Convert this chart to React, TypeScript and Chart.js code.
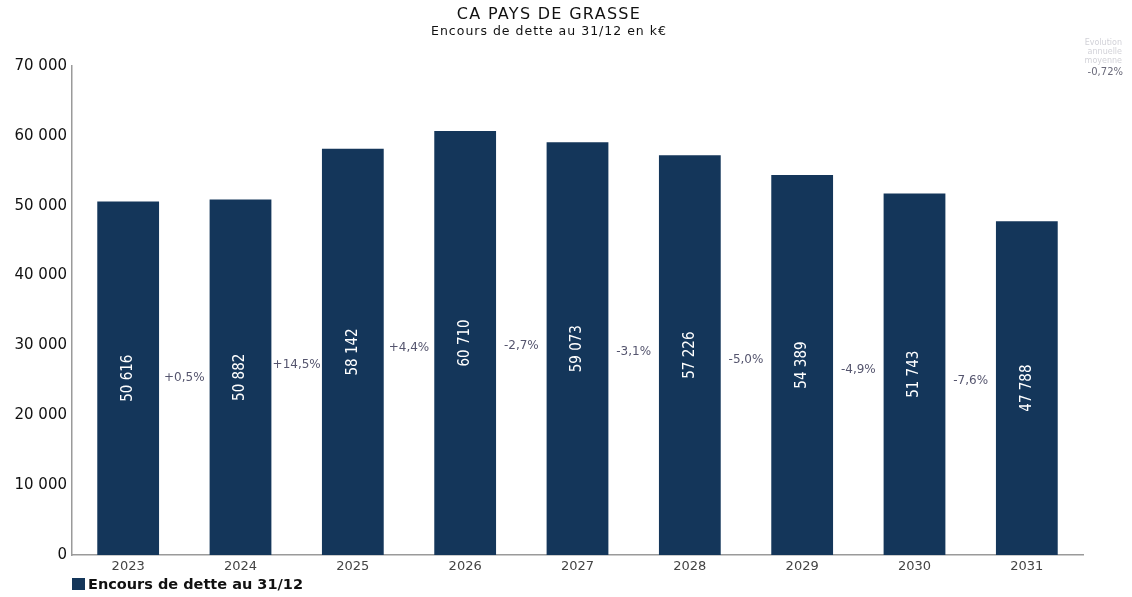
import React, { useEffect, useRef } from "react";
import { Chart, registerables } from "chart.js";

Chart.register(...registerables);

const TITLE = "CA PAYS DE GRASSE";
const SUBTITLE = "Encours de dette au 31/12 en k€";
const SERIES_LABEL = "Encours de dette au 31/12";
const YEARS = ["2023", "2024", "2025", "2026", "2027", "2028", "2029", "2030", "2031"];
const DEBT = [50616, 50882, 58142, 60710, 59073, 57226, 54389, 51743, 47788];
const CHANGES = ["+0,5%", "+14,5%", "+4,4%", "-2,7%", "-3,1%", "-5,0%", "-4,9%", "-7,6%"];
const AVG_NOTE = ["Evolution", "annuelle", "moyenne"];
const AVG_VALUE = "-0,72%";
const Y_MIN = 0;
const Y_MAX = 70000;
const Y_STEP = 10000;

const BAR_COLOR = "#14365a";
const FONT = "'DejaVu Sans', Verdana, sans-serif";
const FONT_COND = "'DejaVu Sans Condensed', 'DejaVu Sans', sans-serif";

const fmt = (v: number) => String(Math.round(v)).replace(/\B(?=(\d{3})+(?!\d))/g, " ");

const overlay = {
  id: "overlay",
  afterDatasetsDraw(chart: any) {
    const { ctx, scales } = chart;
    const x = scales.x;
    const y = scales.y;
    const w = chart.width;
    ctx.save();
    // Titles
    ctx.textAlign = "center";
    ctx.textBaseline = "middle";
    ctx.fillStyle = "#111";
    ctx.font = `16px ${FONT}`;
    (ctx as any).letterSpacing = "1.3px";
    ctx.fillText(TITLE, 549, 15);
    ctx.font = `12.5px ${FONT}`;
    (ctx as any).letterSpacing = "1px";
    ctx.fillText(SUBTITLE, 549, 32);
    (ctx as any).letterSpacing = "0px";

    // Bar value labels (rotated)
    const meta = chart.getDatasetMeta(0);
    ctx.font = `15px ${FONT_COND}`;
    ctx.fillStyle = "#ffffff";
    meta.data.forEach((bar: any, i: number) => {
      const cy = (bar.y + bar.base) / 2;
      ctx.save();
      ctx.translate(bar.x, cy);
      ctx.rotate(-Math.PI / 2);
      ctx.textAlign = "center";
      ctx.textBaseline = "middle";
      ctx.fillText(fmt(DEBT[i]), 0, 0);
      ctx.restore();
    });

    // Change labels between bars
    ctx.font = `12px ${FONT}`;
    ctx.fillStyle = "#55556e";
    ctx.textAlign = "center";
    ctx.textBaseline = "middle";
    CHANGES.forEach((t, i) => {
      const px = (x.getPixelForValue(i) + x.getPixelForValue(i + 1)) / 2;
      const py = y.getPixelForValue((DEBT[i] + DEBT[i + 1]) / 4);
      ctx.fillText(t, px, py);
    });

    // Average note top-right
    ctx.textAlign = "right";
    ctx.font = `8px ${FONT}`;
    ctx.fillStyle = "#d2d2d8";
    AVG_NOTE.forEach((t, i) => ctx.fillText(t, w - 10, 43 + i * 9));
    ctx.font = `10px ${FONT}`;
    ctx.fillStyle = "#6a6a7a";
    ctx.fillText(AVG_VALUE, w - 9, 72);

    // Legend
    ctx.fillStyle = BAR_COLOR;
    ctx.fillRect(72, 578, 13, 12);
    ctx.textAlign = "left";
    ctx.fillStyle = "#111";
    ctx.font = `bold 14.5px ${FONT}`;
    ctx.fillText(SERIES_LABEL, 88, 585);
    ctx.restore();
  },
};

export default function App() {
  const ref = useRef<HTMLCanvasElement | null>(null);
  useEffect(() => {
    if (!ref.current) return;
    const chart = new Chart(ref.current, {
      type: "bar",
      data: {
        labels: YEARS,
        datasets: [
          {
            label: SERIES_LABEL,
            data: DEBT,
            backgroundColor: BAR_COLOR,
            categoryPercentage: 1,
            barPercentage: 0.55,
          },
        ],
      },
      options: {
        animation: false,
        responsive: true,
        maintainAspectRatio: false,
        layout: { padding: { top: 66, right: 49, bottom: 0, left: 0 } },
        plugins: {
          legend: { display: false },
          title: { display: false },
          tooltip: { enabled: false },
        },
        scales: {
          x: {
            grid: { display: false, drawTicks: false },
            border: { display: true, color: "#9a9a9a", width: 1.5 },
            ticks: { color: "#444", font: { family: FONT, size: 13 }, padding: 4 },
            afterFit: (s: any) => { s.height = 42; },
          },
          y: {
            min: Y_MIN,
            max: Y_MAX,
            grid: { display: false, drawTicks: true, tickLength: 3, tickColor: "#9a9a9a" },
            border: { display: true, color: "#9a9a9a", width: 1.5 },
            ticks: {
              stepSize: Y_STEP,
              color: "#111",
              font: { family: FONT, size: 15 },
              padding: 2,
              callback: (v: any) => fmt(Number(v)),
            },
            afterFit: (s: any) => { s.width = 72; },
          },
        },
      },
      plugins: [overlay],
    });
    return () => chart.destroy();
  }, []);
  return (
    <div style={{ position: "fixed", left: 0, top: 0, width: 1132, height: 597, background: "#fff" }}>
      <canvas ref={ref} />
    </div>
  );
}
